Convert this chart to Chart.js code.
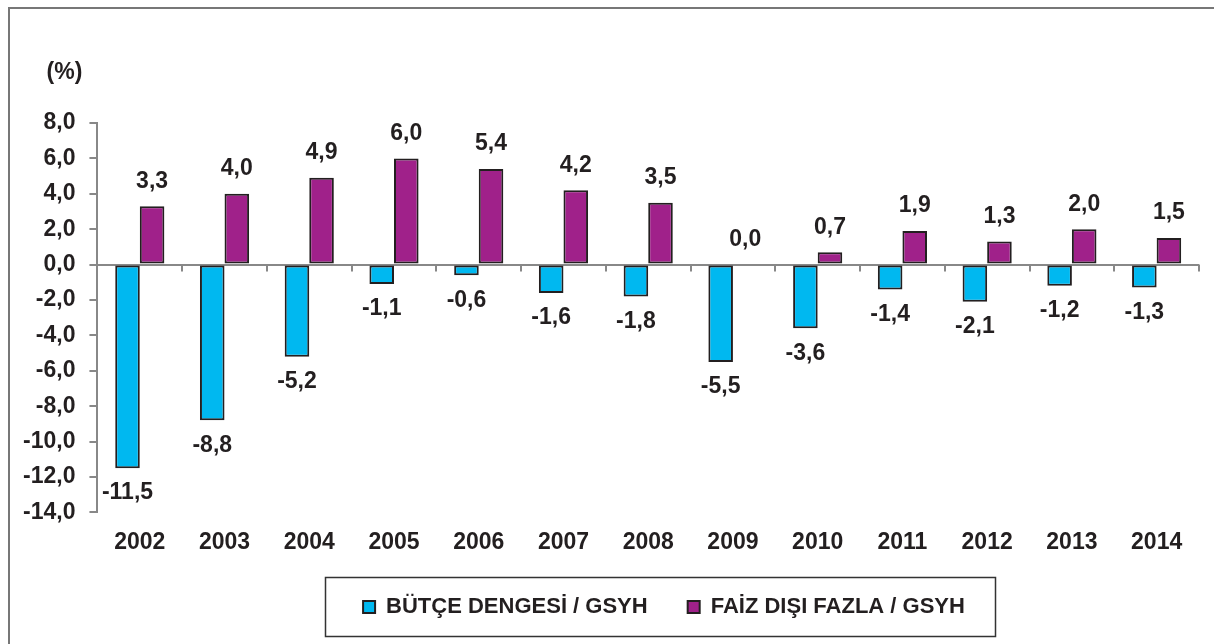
<!DOCTYPE html>
<html>
<head>
<meta charset="utf-8">
<script src="https://cdn.jsdelivr.net/npm/chart.js@4/dist/chart.umd.min.js"></script>
<style>
  html, body { margin: 0; padding: 0; background: #fff; overflow: hidden; }
  #frame { position: absolute; left: 8px; top: 7px; width: 2000px; height: 2000px;
           border-left: 2px solid #777; border-top: 2px solid #777; }
  #wrap { position: absolute; left: 0; top: 0; width: 1214px; height: 644px; }
</style>
</head>
<body>
<div id="frame"></div>
<div id="wrap"><canvas id="myChart"></canvas></div>
<script>
const years = ["2002", "2003", "2004", "2005", "2006", "2007", "2008", "2009", "2010", "2011", "2012", "2013", "2014"];
const butceDengesi = [-11.5, -8.8, -5.2, -1.1, -0.6, -1.6, -1.8, -5.5, -3.6, -1.4, -2.1, -1.2, -1.3];
const faizDisiFazla = [3.3, 4.0, 4.9, 6.0, 5.4, 4.2, 3.5, 0.0, 0.7, 1.9, 1.3, 2.0, 1.5];
const yMin = -14;
const yMax = 8;
const yStep = 2;

const TEXT = "#231f20";
const AXIS = "#888888";
const FONT = '"Liberation Sans", Arial, sans-serif';

const fmt = (v) => v.toFixed(1).replace(".", ",");

// value labels at the end of each bar
const valueLabels = {
  id: "valueLabels",
  afterDatasetsDraw(chart) {
    const { ctx } = chart;
    ctx.save();
    ctx.font = "bold 23px " + FONT;
    ctx.fillStyle = TEXT;
    ctx.textAlign = "center";
    ctx.textBaseline = "middle";
    chart.data.datasets.forEach((ds, i) => {
      chart.getDatasetMeta(i).data.forEach((bar, j) => {
        const v = ds.data[j];
        const y = v < 0 ? bar.y + 25 : bar.y - 25;
        ctx.fillText(fmt(v), bar.x, y);
      });
    });
    ctx.restore();
  },
};

// legend sits a bit right of centre and higher, as in the original
const legendShift = {
  id: "legendShift",
  afterLayout(chart) {
    const lg = chart.legend;
    const dx = 664 - (lg.left + lg.right) / 2;
    lg.left += dx;
    lg.right += dx;
    lg.top -= 8;
    lg.bottom -= 8;
  },
};

// small category ticks hanging under the zero line, "(%)" unit, legend frame
const extras = {
  id: "extras",
  afterDraw(chart) {
    const { ctx, chartArea } = chart;
    const x = chart.scales.x;
    const y0 = chart.scales.y.getPixelForValue(0);
    const n = years.length;
    const w = (x.right - x.left) / n;
    ctx.save();
    ctx.strokeStyle = AXIS;
    ctx.lineWidth = 2;
    for (let i = 0; i <= n; i++) {
      const px = Math.round(x.left + i * w);
      ctx.beginPath();
      ctx.moveTo(px, y0);
      ctx.lineTo(px, y0 + 7);
      ctx.stroke();
    }
    ctx.font = "bold 23px " + FONT;
    ctx.fillStyle = TEXT;
    ctx.textAlign = "center";
    ctx.textBaseline = "middle";
    ctx.fillText("(%)", chartArea.left - 33, chartArea.top - 50);

    const boxes = chart.legend.legendHitBoxes;
    if (boxes && boxes.length) {
      const left = boxes[0].left;
      const last = boxes[boxes.length - 1];
      const right = last.left + last.width;
      const cx = (left + right) / 2;
      const cy = boxes[0].top + boxes[0].height / 2;
      ctx.strokeStyle = "#333";
      ctx.lineWidth = 1.5;
      ctx.strokeRect(Math.round(cx - 339) + 0.5, Math.round(cy - 30) + 0.5, 670, 59);
    }
    ctx.restore();
  },
};

const ctx = document.getElementById("myChart").getContext("2d");

new Chart(ctx, {
  type: "bar",
  data: {
    labels: years,
    datasets: [
      {
        label: "BÜTÇE DENGESİ / GSYH",
        data: butceDengesi,
        backgroundColor: "#00b8f0",
        borderColor: TEXT,
        borderWidth: 2,
        borderSkipped: false,
      },
      {
        label: "FAİZ DIŞI FAZLA / GSYH",
        data: faizDisiFazla,
        backgroundColor: "#a0218a",
        borderColor: TEXT,
        borderWidth: 2,
        borderSkipped: false,
      },
    ],
  },
  options: {
    responsive: true,
    maintainAspectRatio: false,
    animation: false,
    datasets: {
      bar: { categoryPercentage: 0.58, barPercentage: 1 },
    },
    layout: {
      padding: { top: 123, right: 15, left: 9, bottom: 8 },
    },
    plugins: {
      legend: {
        position: "bottom",
        labels: {
          font: { family: FONT, size: 22, weight: "bold" },
          color: TEXT,
          boxWidth: 12,
          boxHeight: 12,
          padding: 40,
        },
      },
      tooltip: { enabled: false },
    },
    scales: {
      x: {
        grid: { display: false },
        border: { display: false },
        ticks: {
          font: { family: FONT, size: 23, weight: "bold" },
          color: TEXT,
          padding: 8,
        },
      },
      y: {
        min: yMin,
        max: yMax,
        ticks: {
          stepSize: yStep,
          callback: (v) => fmt(v),
          font: { family: FONT, size: 23, weight: "bold" },
          color: TEXT,
          padding: 14,
        },
        grid: {
          color: (c) => (c.tick && c.tick.value === 0 ? AXIS : "rgba(0,0,0,0)"),
          lineWidth: 2,
          tickColor: AXIS,
          tickLength: 8,
        },
        border: { color: AXIS, width: 2 },
      },
    },
  },
  plugins: [valueLabels, legendShift, extras],
});
</script>
</body>
</html>
